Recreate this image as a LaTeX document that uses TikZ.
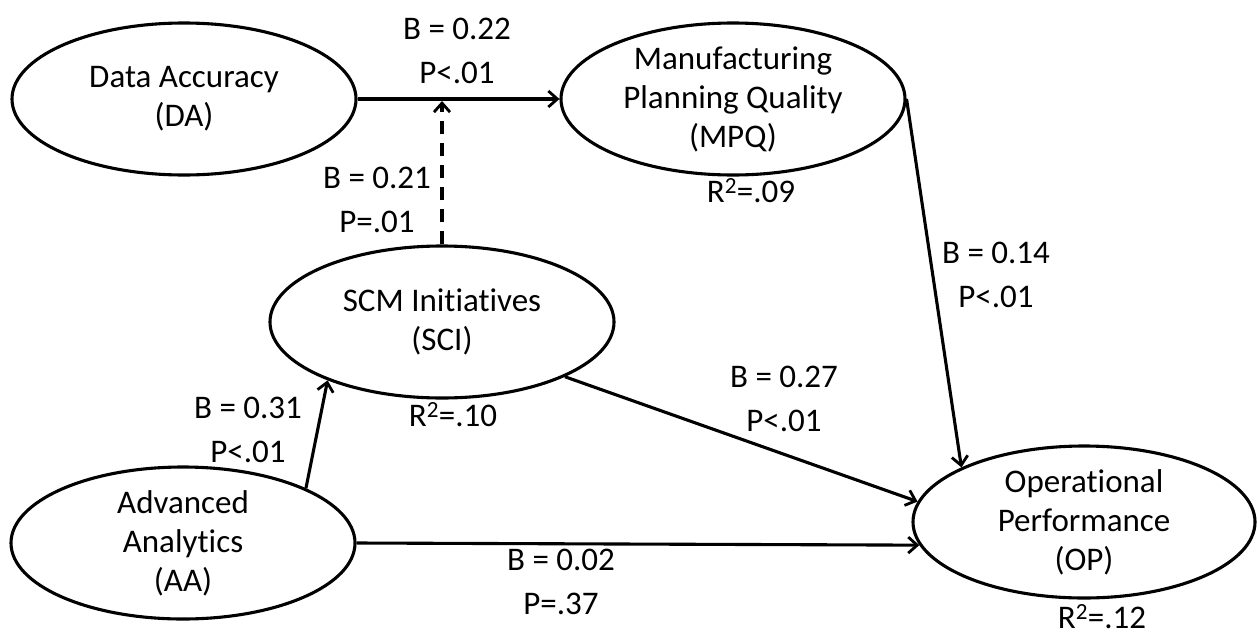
\documentclass[tikz,border=0pt]{standalone}
\usepackage{fontspec}
\setmainfont{Carlito}[Ligatures={NoCommon,NoRequired,NoContextual}]
\usetikzlibrary{shapes.geometric,arrows.meta}
\begin{document}
\begin{tikzpicture}[x=1pt,y=-1pt,
  construct/.style={ellipse,draw,line width=3.1pt,minimum width=344pt,minimum height=152pt,inner sep=0pt,align=center,font=\fontsize{33}{39}\selectfont},
  lbl/.style={align=center,inner sep=0pt,font=\fontsize{33}{44}\selectfont},
  path/.style={line width=3.1pt,-{Straight Barb[length=9pt,width=16pt,line width=2.8pt]}},
  dpath/.style={path,dash pattern=on 13pt off 9pt}]
\useasboundingbox (0,0) rectangle (1257,637);
\node[construct] (DA) at (184,99) {Data Accuracy\\(DA)};
\node[construct] (MPQ) at (733,99) {Manufacturing\\Planning Quality\\(MPQ)};
\node[construct] (SCI) at (442,322) {SCM Initiatives\\(SCI)};
\node[construct] (AA) at (183,543) {Advanced\\Analytics\\(AA)};
\node[construct,minimum width=342pt] (OP) at (1084,522) {Operational\\Performance\\(OP)};
\coordinate (jn) at (442,101);
\draw[path] (DA.east) -- (MPQ.west);
\draw[dpath] (SCI.north) -- (jn);
\draw[path] (MPQ.east) -- (OP.156);
\draw[path] (SCI.-24) -- (OP.173);
\draw[path] (AA.24) -- (SCI.207);
\draw[path] (AA.east) -- (OP.188);
\node[lbl] (l1) at (457,51) {B = 0.22\\P<.01};
\node[lbl] (l2) at (377,200) {B = 0.21\\P=.01};
\node[lbl] (l3) at (996,275) {B = 0.14\\P<.01};
\node[lbl] (l4) at (784,399) {B = 0.27\\P<.01};
\node[lbl] (l5) at (248,430) {B = 0.31\\P<.01};
\node[lbl] (l6) at (561,582) {B = 0.02\\P=.37};
\node[lbl] (r1) at (751,191) {R\textsuperscript{2}=.09};
\node[lbl] (r2) at (453,415) {R\textsuperscript{2}=.10};
\node[lbl] (r3) at (1102,617) {R\textsuperscript{2}=.12};
\end{tikzpicture}
\end{document}
